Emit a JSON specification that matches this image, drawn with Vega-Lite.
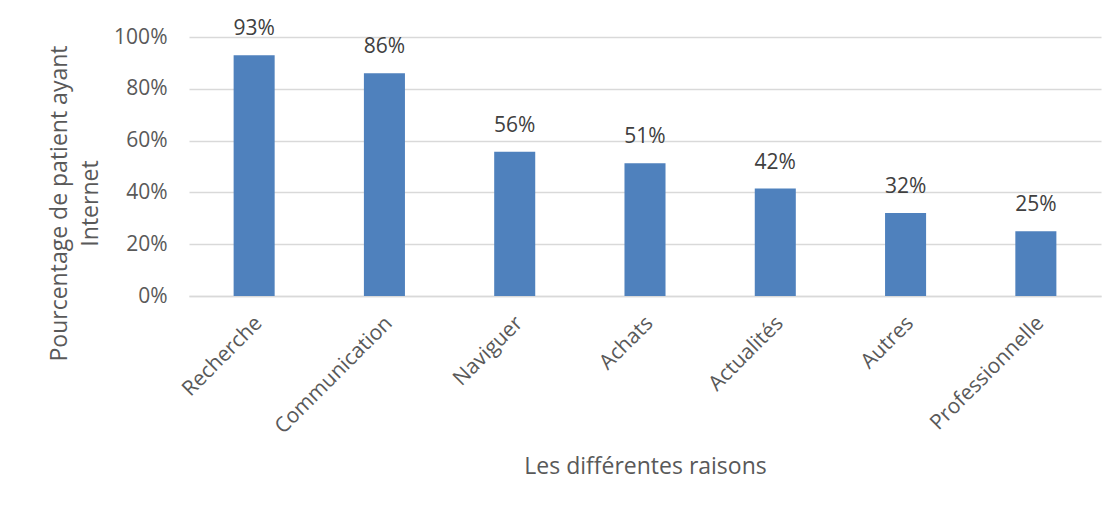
{
  "$schema": "https://vega.github.io/schema/vega-lite/v6.json",
  "autosize": {"type": "none"},
  "width": 912,
  "height": 259,
  "padding": {"left": 189, "top": 37, "right": 18, "bottom": 215},
  "background": "white",
  "data": {"values": [
    {"raison": "Recherche", "pct": 0.93},
    {"raison": "Communication", "pct": 0.86},
    {"raison": "Naviguer", "pct": 0.557},
    {"raison": "Achats", "pct": 0.513},
    {"raison": "Actualités", "pct": 0.415},
    {"raison": "Autres", "pct": 0.32},
    {"raison": "Professionnelle", "pct": 0.25}
  ]},
  "config": {
    "view": {"stroke": null},
    "font": "Open Sans",
    "axis": {"labelFont": "Open Sans", "titleFont": "Open Sans", "labelColor": "#595959", "titleColor": "#595959", "titleFontWeight": "normal"}
  },
  "encoding": {
    "x": {
      "field": "raison", "type": "nominal", "sort": null,
      "scale": {"paddingInner": 0.685, "paddingOuter": 0.3425},
      "axis": {
        "title": "Les différentes raisons",
        "titleFontSize": 23,
        "titleY": 170,
        "titleBaseline": "middle",
        "labelAngle": -45,
        "labelAlign": "right",
        "labelBaseline": "top",
        "labelFontSize": 21,
        "labelPadding": 16,
        "labelOffset": -3,
        "ticks": false,
        "domainColor": "#d9d9d9",
        "domainWidth": 1.5
      }
    },
    "y": {
      "field": "pct", "type": "quantitative",
      "scale": {"domain": [0, 1], "nice": false},
      "axis": {
        "title": ["Pourcentage de patient ayant", "Internet"],
        "titleFontSize": 23,
        "titleAngle": -90,
        "titleX": -141,
        "titleY": 166,
        "titleAlign": "center",
        "titleBaseline": "top",
        "titleLineHeight": 31,
        "values": [0, 0.2, 0.4, 0.6, 0.8, 1],
        "format": ".0%",
        "labelFontSize": 21,
        "labelPadding": 22,
        "ticks": false,
        "domain": false,
        "gridColor": "#d9d9d9",
        "gridWidth": 1.5
      }
    }
  },
  "layer": [
    {"mark": {"type": "bar", "color": "#4f81bd"}},
    {
      "mark": {"type": "text", "baseline": "bottom", "dy": -16, "fontSize": 21, "color": "#404040", "font": "Open Sans"},
      "encoding": {"text": {"field": "pct", "type": "quantitative", "format": ".0%"}}
    }
  ]
}
